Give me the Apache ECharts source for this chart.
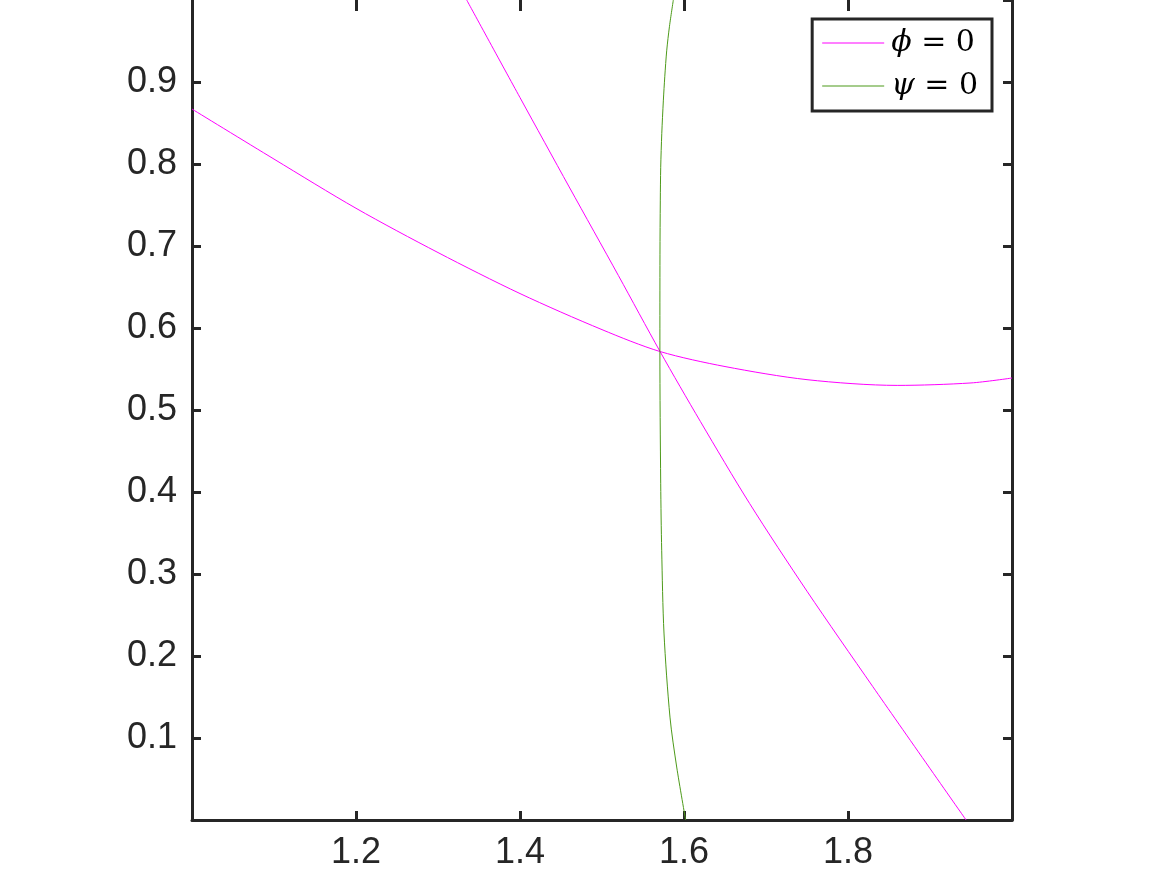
<!DOCTYPE html>
<html>
<head>
<meta charset="utf-8">
<script src="https://cdn.jsdelivr.net/npm/echarts@6/dist/echarts.min.js"></script>
<style>
html,body{margin:0;padding:0;background:#fff;}
#main{width:1166px;height:875px;}
</style>
</head>
<body>
<div id="main"></div>
<script>
// Series names
var seriesNames = ['phi', 'psi'];
// phi = 0 : steep branch [x, y]
var phiSteep = [
  [1.335, 1.0], [1.40, 0.881], [1.46, 0.772], [1.52, 0.664], [1.5708, 0.5713],
  [1.62, 0.486], [1.68, 0.386], [1.75, 0.279], [1.83, 0.163], [1.944, 0.0]
];
// phi = 0 : shallow branch [x, y]
var phiShallow = [
  [1.0, 0.867], [1.1, 0.806], [1.2, 0.746], [1.3, 0.692], [1.4, 0.642],
  [1.5, 0.598], [1.5708, 0.5713], [1.65, 0.553], [1.75, 0.537], [1.86, 0.530],
  [1.95, 0.533], [2.0, 0.539]
];
// psi = 0 curve [x, y]
var psiCurve = [
  [1.5870, 1.0], [1.5823, 0.968], [1.5789, 0.938], [1.5766, 0.907], [1.5748, 0.877],
  [1.5729, 0.837], [1.5716, 0.796], [1.5711, 0.755], [1.5707, 0.690],
  [1.5706, 0.5713], [1.5716, 0.41], [1.5728, 0.329], [1.5756, 0.228],
  [1.5829, 0.1255], [1.5911, 0.0646], [1.602, 0.0]
];
// Axis ranges / ticks
var xRange = [1.0, 2.0], xStep = 0.2;
var yRange = [0.0, 1.0], yStep = 0.1;

var axisColor = '#262626';
var fontFam = '"Liberation Sans", Arial, Helvetica, sans-serif';

function axisCommon(showLabels) {
  return {
    axisLine: {show: true, onZero: false, lineStyle: {color: axisColor, width: 3}},
    axisTick: {show: true, inside: true, length: 9, lineStyle: {color: axisColor, width: 3}},
    splitLine: {show: false},
    axisLabel: showLabels ? {
      show: true, color: axisColor, fontSize: 36, fontFamily: fontFam,
      showMinLabel: false, showMaxLabel: false,
      formatter: function (v) { return v.toFixed(1); }
    } : {show: false}
  };
}

var chart = echarts.init(document.getElementById('main'), null, {renderer: 'canvas'});
var xa = Object.assign({type: 'value', position: 'bottom', min: xRange[0], max: xRange[1], interval: xStep}, axisCommon(true));
xa.axisLabel.margin = 15;
var xb = Object.assign({type: 'value', position: 'top', min: xRange[0], max: xRange[1], interval: xStep}, axisCommon(false));
xb.axisLine.show = false;
xb.axisTick.length = 11;
var ya = Object.assign({type: 'value', position: 'left', min: yRange[0], max: yRange[1], interval: yStep}, axisCommon(true));
ya.axisLabel.margin = 15;
var yb = Object.assign({type: 'value', position: 'right', min: yRange[0], max: yRange[1], interval: yStep}, axisCommon(false));

var magenta = '#ff00ff';
var green = '#4d9a1a';

chart.setOption({
  animation: false,
  backgroundColor: '#ffffff',
  grid: {left: 192, right: 154, top: -1, bottom: 55, containLabel: false},
  xAxis: [xa, xb],
  yAxis: [ya, yb],
  legend: {
    orient: 'vertical',
    right: 174, top: 19,
    selectedMode: false,
    borderColor: axisColor, borderWidth: 3,
    backgroundColor: '#ffffff',
    padding: [9, 14, 10, 10],
    icon: 'rect',
    itemWidth: 62, itemHeight: 1, itemGap: 13,
    data: [
      {name: 'phi', itemStyle: {color: magenta, borderWidth: 0}},
      {name: 'psi', itemStyle: {color: green, borderWidth: 0}}
    ],
    formatter: function (n) {
      return n === 'phi' ? '{g|\u03D5} = 0' : '{g|\u03C8} = 0';
    },
    textStyle: {
      fontSize: 30, lineHeight: 30, color: '#000', fontFamily: '"DejaVu Serif", "Liberation Serif", serif',
      padding: [0, 0, 0, 2],
      rich: {
        g: {fontSize: 30, lineHeight: 30, fontStyle: 'italic', fontFamily: '"DejaVu Serif", "Liberation Serif", serif', color: '#000'}
      }
    }
  },
  series: [
    {name: 'phi', type: 'line', data: phiSteep, symbol: 'none', smooth: 0.3, clip: true,
     lineStyle: {color: magenta, width: 1}, itemStyle: {color: magenta}},
    {name: 'phi', type: 'line', data: phiShallow, symbol: 'none', smooth: 0.3, clip: true,
     lineStyle: {color: magenta, width: 1}, itemStyle: {color: magenta}},
    {name: 'psi', type: 'line', data: psiCurve, symbol: 'none', smooth: 0.3, clip: true,
     lineStyle: {color: green, width: 1}, itemStyle: {color: green}}
  ]
});
</script>
</body>
</html>
